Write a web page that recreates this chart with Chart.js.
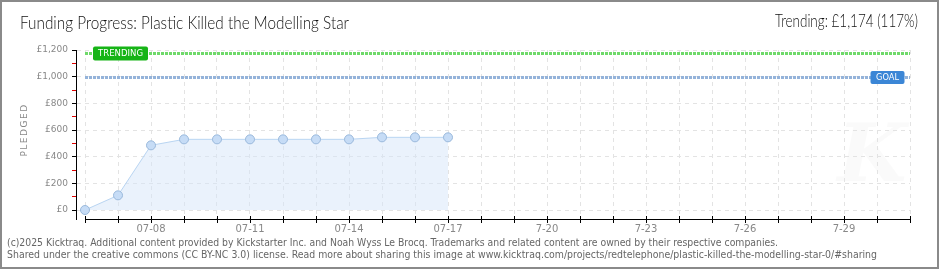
<!DOCTYPE html>
<html>
<head>
<meta charset="utf-8">
<script src="https://cdn.jsdelivr.net/npm/chart.js@4/dist/chart.umd.min.js"></script>
<style>
html,body{margin:0;padding:0;background:#fff;}
canvas{display:block;}
</style>
</head>
<body>
<canvas id="c" width="940" height="270"></canvas>
<script>
// ---- data ----
const dayLabels = ['07-06','07-07','07-08','07-09','07-10','07-11','07-12','07-13','07-14','07-15','07-16','07-17',
  '7-18','7-19','7-20','7-21','7-22','7-23','7-24','7-25','7-26','7-27','7-28','7-29','7-30','7-31'];
const pledged = [0, 110, 485, 530, 530, 530, 530, 530, 530, 545, 545, 545];
const goalValue = 1000;
const trendingValue = 1174;
const yTickValues = [0, 200, 400, 600, 800, 1000, 1200];
const titleText = 'Funding Progress: Plastic Killed the Modelling Star';
const trendText = 'Trending: \u00a31,174 (117%)';
const footer1 = '(c)2025 Kicktraq. Additional content provided by Kickstarter Inc. and Noah Wyss Le Brocq. Trademarks and related content are owned by their respective companies.';
const footer2 = 'Shared under the creative commons (CC BY-NC 3.0) license. Read more about sharing this image at www.kicktraq.com/projects/redtelephone/plastic-killed-the-modelling-star-0/#sharing';

const points = pledged.map((v, i) => ({x: i, y: v}));
const isMajor = v => yTickValues.includes(v);

function fitText(ctx, text, x, y, width, font, color, align) {
  ctx.save();
  ctx.font = font;
  ctx.fillStyle = color;
  ctx.textBaseline = 'middle';
  const w = ctx.measureText(text).width;
  const s = width / w;
  let left = x;
  if (align === 'right') left = x - width;
  if (align === 'center') left = x - width / 2;
  ctx.translate(left, y);
  ctx.scale(s, 1);
  ctx.textAlign = 'left';
  ctx.fillText(text, 0, 0);
  ctx.restore();
}

const decor = {
  id: 'decor',
  beforeDraw(chart) {
    const ctx = chart.ctx;
    ctx.save();
    ctx.fillStyle = '#fff';
    ctx.fillRect(0, 0, 940, 270);
    ctx.font = 'italic bold 80px "DejaVu Serif"';
    ctx.fillStyle = 'rgba(0,0,0,0.018)';
    ctx.textAlign = 'center';
    ctx.textBaseline = 'middle';
    ctx.fillText('K', 872, 160);
    ctx.restore();
  },
  beforeDatasetsDraw(chart) {
    const ctx = chart.ctx;
    const xs = chart.scales.x, ys = chart.scales.y;
    const x0 = xs.getPixelForValue(0), x1 = xs.getPixelForValue(dayLabels.length - 1);
    ctx.save();
    const ty = Math.round(ys.getPixelForValue(trendingValue)) + 0.5;
    const gy = Math.round(ys.getPixelForValue(goalValue)) + 0.5;
    ctx.lineWidth = 3;
    ctx.setLineDash([3, 1]);
    ctx.strokeStyle = '#6fd96a';
    ctx.beginPath(); ctx.moveTo(x0, ty); ctx.lineTo(x1, ty); ctx.stroke();
    ctx.strokeStyle = '#94b3da';
    ctx.beginPath(); ctx.moveTo(x0, gy); ctx.lineTo(x1, gy); ctx.stroke();
    ctx.restore();
  },
  afterDraw(chart) {
    const ctx = chart.ctx;
    const xs = chart.scales.x, ys = chart.scales.y;
    const x0 = Math.round(xs.getPixelForValue(0)), x1 = Math.round(xs.getPixelForValue(dayLabels.length - 1));
    ctx.save();
    // x axis line and day ticks
    ctx.fillStyle = '#000';
    const by = Math.round(chart.chartArea.bottom);
    ctx.fillRect(x0, by, x1 - x0 + 1, 1);
    for (let i = 0; i < dayLabels.length; i++) {
      const p = Math.round(xs.getPixelForValue(i));
      ctx.fillRect(p, by - 3, 1, 7);
    }
    // badges
    const ty = Math.round(ys.getPixelForValue(trendingValue)) + 0.5;
    const gy = Math.round(ys.getPixelForValue(goalValue)) + 0.5;
    function badge(text, cx, cy, w, h, tw, color) {
      ctx.fillStyle = color;
      ctx.beginPath();
      ctx.roundRect(cx - w / 2, cy - h / 2, w, h, 2);
      ctx.fill();
      fitText(ctx, text, cx, cy + 0.5, tw, '9px "DejaVu Sans"', '#fff', 'center');
    }
    badge('TRENDING', 120.5, ty, 55, 14, 45, '#16b416');
    badge('GOAL', 887.5, gy, 34, 13, 23, '#3b86d6');
    // frame
    ctx.strokeStyle = '#8a8a8a';
    ctx.lineWidth = 2;
    ctx.strokeRect(1, 1, 937, 267);
    fitText(ctx, titleText, 20, 24, 329, '300 17px "Lato", "DejaVu Sans Condensed", sans-serif', '#111', 'left');
    fitText(ctx, trendText, 918, 22, 143, '300 17px "Lato", "DejaVu Sans Condensed", sans-serif', '#111', 'right');
    fitText(ctx, footer1, 7, 243, 771, '10px "DejaVu Sans Condensed", sans-serif', '#666', 'left');
    fitText(ctx, footer2, 7, 255, 870, '10px "DejaVu Sans Condensed", sans-serif', '#666', 'left');
    ctx.save();
    ctx.translate(25, 130);
    ctx.rotate(-Math.PI / 2);
    ctx.font = '9px "DejaVu Sans"';
    ctx.fillStyle = '#888';
    ctx.textAlign = 'center';
    ctx.textBaseline = 'middle';
    ctx.letterSpacing = '1.5px';
    ctx.fillText('PLEDGED', 0, 0);
    ctx.letterSpacing = '0px';
    ctx.restore();
    ctx.restore();
  }
};

new Chart(document.getElementById('c'), {
  type: 'line',
  data: {
    datasets: [{
      data: points,
      borderColor: '#b9d5f2',
      borderWidth: 1,
      backgroundColor: 'rgba(214,230,249,0.5)',
      fill: {value: 0},
      tension: 0,
      pointRadius: 4.5,
      pointBackgroundColor: '#c6dcf6',
      pointBorderColor: '#9ab9dc',
      pointBorderWidth: 1
    }]
  },
  options: {
    responsive: false,
    devicePixelRatio: 1,
    animation: false,
    events: [],
    layout: {padding: {top: 50, right: 30, bottom: 0, left: 0}},
    plugins: {legend: {display: false}, tooltip: {enabled: false}, title: {display: false}},
    scales: {
      x: {
        type: 'linear',
        min: -9 / 33,
        max: dayLabels.length - 1,
        afterFit: s => { s.height = 51; },
        border: {display: false, dash: [4, 4]},
        grid: {color: '#e3e3e3', drawTicks: false},
        ticks: {
          stepSize: 1,
          includeBounds: false,
          autoSkip: false,
          maxRotation: 0,
          maxTicksLimit: 100,
          padding: 4,
          color: '#888',
          font: {family: '"DejaVu Sans"', size: 10},
          callback: v => (Number.isInteger(v) && v % 3 === 2 && dayLabels[v]) ? dayLabels[v] : ''
        }
      },
      y: {
        min: -67.5,
        max: 1200,
        afterFit: s => { s.width = 76; },
        border: {display: true, color: '#000', width: 1, dash: [4, 4]},
        grid: {
          color: c => (c.tick && isMajor(c.tick.value)) ? '#e3e3e3' : 'rgba(0,0,0,0)',
          drawTicks: true,
          tickLength: 4,
          tickColor: c => (c.tick && isMajor(c.tick.value)) ? '#000' : '#e00000'
        },
        ticks: {
          stepSize: 100,
          includeBounds: false,
          autoSkip: false,
          maxTicksLimit: 100,
          padding: 4,
          color: '#888',
          font: {family: '"DejaVu Sans"', size: 9},
          callback: v => isMajor(v) ? '\u00a3' + v.toLocaleString('en-GB') : ''
        }
      }
    }
  },
  plugins: [decor]
});
</script>
</body>
</html>
